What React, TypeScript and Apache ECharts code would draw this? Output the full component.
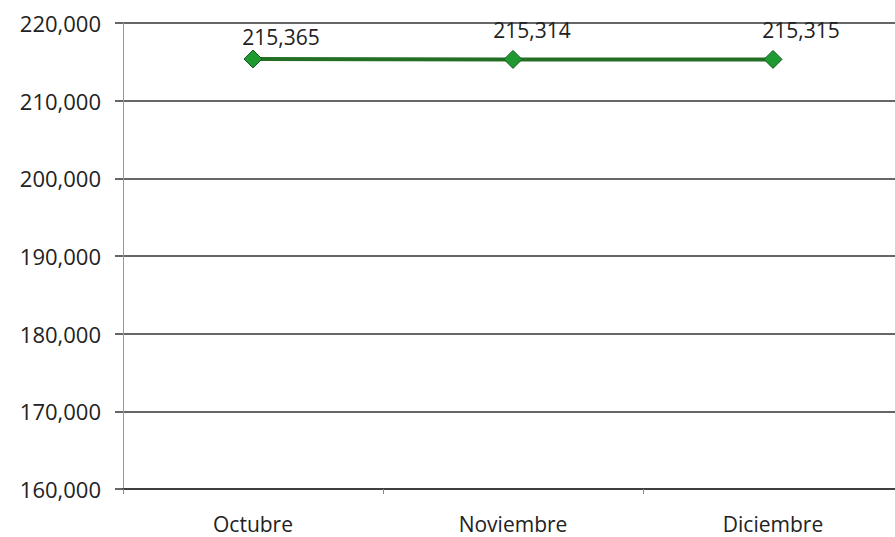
import React, { useEffect, useRef } from "react";
import * as echarts from "echarts";

const categories = ["Octubre", "Noviembre", "Diciembre"];
const values = [215365, 215314, 215315];
const yTicks = { min: 160000, max: 220000, interval: 10000 };
const labelOffsets: [number, number][] = [[28, 3], [19, -4], [28, -4]];

export default function App() {
  const ref = useRef<HTMLDivElement>(null);
  useEffect(() => {
    if (!ref.current) return;
    const chart = echarts.init(ref.current, null, { renderer: "svg" });
    const font = "'Open Sans', sans-serif";
    chart.setOption({
      animation: false,
      backgroundColor: "#ffffff",
      grid: { left: 123, right: 7, top: 23, bottom: 48, containLabel: false },
      xAxis: {
        type: "category",
        data: categories,
        boundaryGap: true,
        axisLine: { show: true, lineStyle: { color: "#333", width: 1.5 } },
        axisTick: { show: true, length: 5, lineStyle: { color: "#888" } },
        axisLabel: { color: "#222", fontFamily: font, fontSize: 21, margin: 24 },
        splitLine: { show: false },
      },
      yAxis: {
        type: "value",
        min: yTicks.min,
        max: yTicks.max,
        interval: yTicks.interval,
        axisLine: { show: true, lineStyle: { color: "#999", width: 1 } },
        axisTick: { show: true, length: 8, lineStyle: { color: "#333", width: 1.5 } },
        axisLabel: {
          color: "#222",
          fontFamily: font,
          fontSize: 22,
          margin: 22,
          formatter: (v: number) => v.toLocaleString("en-US"),
        },
        splitLine: { show: true, lineStyle: { color: "#333", width: 1.5 } },
      },
      series: [
        {
          type: "line",
          data: values.map((v, i) => ({
            value: v,
            label: { offset: labelOffsets[i] },
          })),
          symbol: "diamond",
          symbolSize: 18,
          itemStyle: { color: "#1f9a30", borderColor: "#165a1e", borderWidth: 1 },
          lineStyle: { color: "#236f26", width: 4 },
          label: {
            show: true,
            position: "top",
            fontFamily: font,
            fontSize: 21,
            color: "#222",
            formatter: (p: any) => Number(p.value).toLocaleString("en-US"),
          },
        },
      ],
    });
    return () => chart.dispose();
  }, []);
  return (
    <div
      style={{
        position: "absolute",
        left: 0,
        top: 0,
        width: 895,
        height: 537,
        overflow: "hidden",
      }}
    >
      <div ref={ref} style={{ width: 910, height: 537 }} />
    </div>
  );
}
